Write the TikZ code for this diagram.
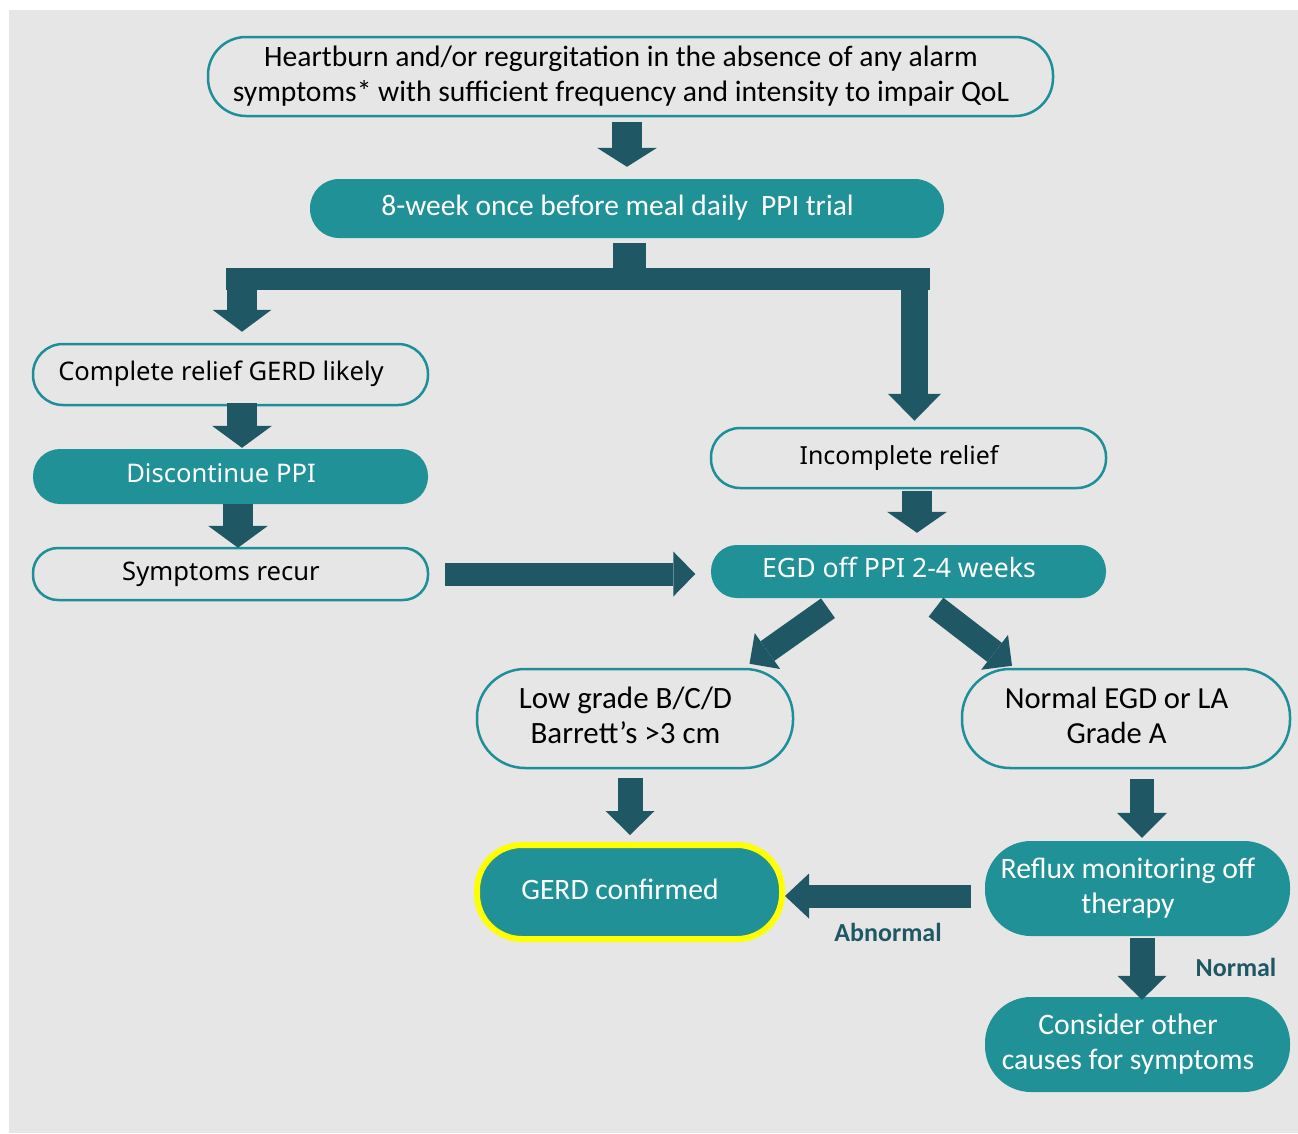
\documentclass[tikz,border=0pt]{standalone}
\usepackage{fontspec}
\setmainfont{Carlito}
\newfontfamily\notosans{Noto Sans}
\usetikzlibrary{arrows.meta}
\definecolor{bggray}{HTML}{E6E6E6}
\definecolor{tealfill}{HTML}{209196}
\definecolor{tealline}{HTML}{1E8E98}
\definecolor{arrowteal}{HTML}{1F5864}
\definecolor{hilite}{HTML}{FFFF00}
% box texts sit a little left of the box centre
\newcommand\boxtext[1]{\hspace*{-19pt}\begin{tabular}{@{}c@{}}#1\end{tabular}}

\begin{document}
\begin{tikzpicture}[x=1pt, y=-1pt,
  every node/.style={inner sep=0pt},
  outline/.style={rectangle, draw=tealline, line width=2.5pt, fill=bggray, text=black},
  filled/.style={rectangle, fill=tealfill, text=white},
  blk/.style n args={3}{draw=arrowteal, line width=#1,
    -{Triangle[width=#2, length=#3, line width=0pt]}},
  lbl/.style={text=arrowteal, font=\bfseries\fontsize{26}{30}\selectfont}]
  \useasboundingbox (0,0) rectangle (1298,1133);
  \fill[bggray] (9,10) rectangle (1298,1133);

  % boxes
  \node[outline, minimum width=845pt, minimum height=79pt, rounded corners=38pt,
        font=\fontsize{29.6}{35}\selectfont] (onset) at (630.5,76.5)
        {\boxtext{Heartburn and/or regurgitation in the absence of any alarm\\symptoms* with sufficient frequency and intensity to impair QoL}};
  \node[filled, minimum width=634pt, minimum height=59pt, rounded corners=29pt,
        font=\fontsize{29.5}{35}\selectfont] (trial) at (627,208.5)
        {\boxtext{8-week once before meal daily\ \ PPI trial}};

  \node[outline, minimum width=395pt, minimum height=61pt, rounded corners=30pt,
        font=\notosans\fontsize{25.6}{30}\selectfont] (complete) at (230.5,374.5)
        {\boxtext{Complete relief GERD likely}};
  \node[filled, minimum width=395pt, minimum height=55pt, rounded corners=27pt,
        font=\notosans\fontsize{25.6}{30}\selectfont] (discont) at (230.5,476.5)
        {\boxtext{Discontinue PPI}};
  \node[outline, minimum width=395pt, minimum height=52pt, rounded corners=25pt,
        font=\notosans\fontsize{25.6}{30}\selectfont] (recur) at (230.5,574)
        {\boxtext{Symptoms recur}};

  \node[outline, minimum width=395pt, minimum height=60pt, rounded corners=29pt,
        font=\notosans\fontsize{24.9}{30}\selectfont] (incomplete) at (908.5,458)
        {\boxtext{Incomplete relief}};
  \node[filled, minimum width=395pt, minimum height=53pt, rounded corners=26pt,
        font=\notosans\fontsize{26.6}{30}\selectfont] (egd) at (908.5,571.5)
        {\boxtext{EGD off PPI 2-4 weeks}};

  \node[outline, minimum width=316pt, minimum height=99pt, rounded corners=48pt,
        font=\fontsize{31}{35}\selectfont] (lowgrade) at (635,718.5)
        {\boxtext{Low grade B/C/D\\Barrett’s >3 cm}};
  \node[outline, minimum width=328pt, minimum height=99pt, rounded corners=48pt,
        font=\fontsize{30.6}{35}\selectfont] (normal) at (1126,718.5)
        {\boxtext{Normal EGD or LA\\Grade A}};

  \node[filled, draw=hilite, line width=6pt, minimum width=305pt, minimum height=94pt,
        rounded corners=45pt, font=\fontsize{29.6}{35}\selectfont] (confirmed) at (629.5,892)
        {\boxtext{GERD confirmed}};
  \node[filled, minimum width=305pt, minimum height=95pt, rounded corners=46pt,
        font=\fontsize{29.7}{35}\selectfont] (reflux) at (1137.5,888.5)
        {\boxtext{Reflux monitoring off\\therapy}};
  \node[filled, minimum width=305pt, minimum height=95pt, rounded corners=46pt,
        font=\fontsize{29.7}{35}\selectfont] (other) at (1137.5,1044.5)
        {\boxtext{Consider other\\causes for symptoms}};

  \node[lbl] (abn) at (888,932) {Abnormal};
  \node[lbl] (nrm) at (1236,967) {Normal};

  % split after the PPI trial
  \coordinate (split) at (629.5,279);
  \coordinate (barL) at (226,279);
  \coordinate (barR) at (930,279);
  \coordinate (dropL) at (242,279);
  \coordinate (dropR) at (914.5,279);

  % arrows
  \draw[blk={30pt}{60pt}{19pt}, shorten <=5pt, shorten >=12pt]
    (onset.south -| trial.north) -- (trial.north);
  \draw[arrowteal, line width=33pt, shorten <=5pt] (trial.south -| split) -- (split);
  \draw[arrowteal, line width=22pt] (barL) -- (barR);
  \draw[blk={30pt}{59pt}{22pt}, shorten >=11pt] (dropL) -- (dropL |- complete.north);
  \draw[blk={27pt}{53pt}{27pt}, shorten >=6pt] (dropR) -- (dropR |- incomplete.north);

  \draw[blk={30pt}{60pt}{22pt}, shorten <=-3pt, shorten >=1pt]
    ([xshift=11.5pt]complete.south) -- ([xshift=11.5pt]discont.north);
  \draw[blk={30pt}{60pt}{22pt}, shorten >=-1pt]
    ([xshift=7.5pt]discont.south) -- ([xshift=7.5pt]recur.north);
  \draw[blk={23pt}{45pt}{22pt}, shorten <=16pt, shorten >=15.5pt]
    (recur.east) -- (recur.east -| egd.west);

  \draw[blk={30pt}{60pt}{21pt}, shorten <=2pt, shorten >=12pt]
    ([xshift=8.5pt]incomplete.south) -- ([xshift=8.5pt]egd.north);
  \draw[blk={24pt}{44pt}{22pt}]
    ([shift={(-80.5,10)}]egd.south) -- ([shift={(114.5,-4)}]lowgrade.north);
  \draw[blk={24pt}{44pt}{22pt}]
    ([shift={(27.5,9)}]egd.south) -- ([shift={(-114,-2)}]normal.north);

  \draw[blk={25pt}{49pt}{24pt}, shorten <=9pt, shorten >=7pt]
    ([xshift=-5pt]lowgrade.south) -- ([xshift=-5pt]lowgrade.south |- confirmed.north);
  \draw[blk={24pt}{50pt}{25pt}, shorten <=10pt, shorten >=3pt]
    ([xshift=16pt]normal.south) -- ([xshift=16pt]normal.south |- reflux.north);
  \draw[blk={23pt}{45pt}{24pt}, shorten <=14pt]
    ([shift={(0,7.5)}]reflux.west) -- ([shift={(0,7.5)}]reflux.west -| confirmed.east);
  \draw[blk={25pt}{49pt}{24pt}, shorten <=2pt, shorten >=-3pt]
    ([xshift=4.5pt]reflux.south) -- ([xshift=4.5pt]reflux.south |- other.north);
\end{tikzpicture}
\end{document}
